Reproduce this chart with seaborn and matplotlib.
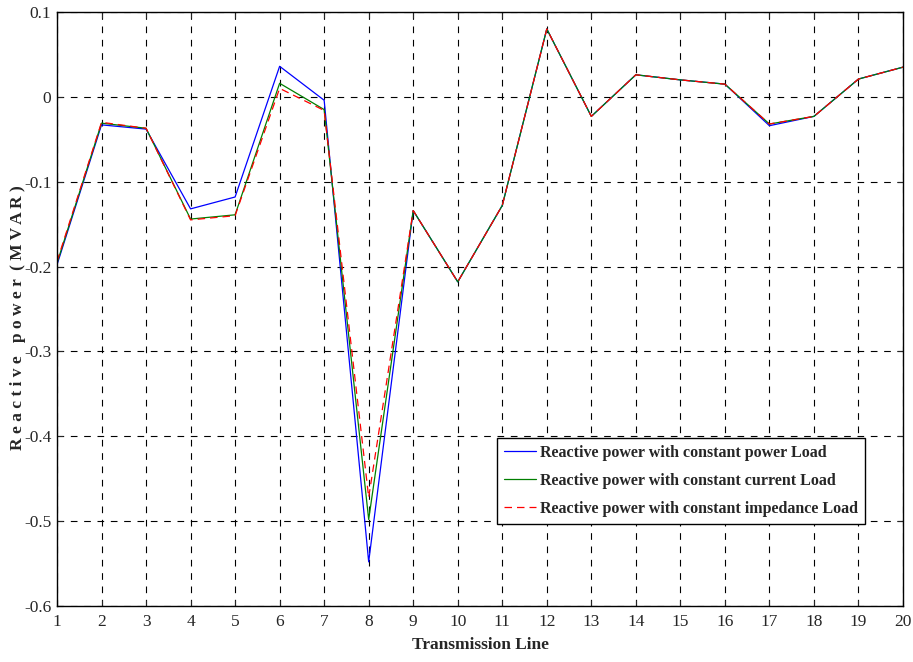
import matplotlib
matplotlib.use("Agg")
import matplotlib.pyplot as plt
import seaborn as sns
import pandas as pd

lines = list(range(1, 21))
const_power = [-0.198, -0.033, -0.038, -0.132, -0.118, 0.036, -0.004, -0.548, -0.134, -0.218,
               -0.128, 0.080, -0.023, 0.026, 0.020, 0.015, -0.034, -0.023, 0.021, 0.035]
const_current = [-0.196, -0.031, -0.037, -0.144, -0.139, 0.016, -0.015, -0.498, -0.134, -0.218,
                 -0.128, 0.080, -0.023, 0.026, 0.020, 0.015, -0.032, -0.023, 0.021, 0.035]
const_impedance = [-0.194, -0.030, -0.037, -0.145, -0.140, 0.010, -0.016, -0.472, -0.134, -0.218,
                   -0.128, 0.080, -0.023, 0.026, 0.020, 0.015, -0.032, -0.023, 0.021, 0.035]
series_names = ["Reactive power with constant power Load",
                "Reactive power with constant current Load",
                "Reactive power with constant impedance Load"]
xticks = list(range(1, 21))
yticks = [-0.6, -0.5, -0.4, -0.3, -0.2, -0.1, 0, 0.1]
ytick_labels = ["-0.6", "-0.5", "-0.4", "-0.3", "-0.2", "-0.1", "0", "0.1"]

df = pd.DataFrame({
    "line": lines * 3,
    "value": const_power + const_current + const_impedance,
    "series": [series_names[0]] * 20 + [series_names[1]] * 20 + [series_names[2]] * 20,
})

sns.set_style("ticks")
plt.rcParams["font.family"] = ["Liberation Serif", "DejaVu Serif"]
plt.rcParams["xtick.direction"] = "in"
plt.rcParams["ytick.direction"] = "in"

fig = plt.figure(figsize=(9.13, 6.62), dpi=100)
ax = fig.add_axes([57 / 913, 1 - 606 / 662, (903 - 57) / 913, (606 - 12) / 662])

palette = {series_names[0]: "#0000ff", series_names[1]: "#007f00", series_names[2]: "#ff0000"}
dashes = {series_names[0]: "", series_names[1]: "", series_names[2]: (6, 4)}
sns.lineplot(data=df, x="line", y="value", hue="series", style="series",
             palette=palette, dashes=dashes, hue_order=series_names, style_order=series_names,
             linewidth=0.9, ax=ax)

ax.set_xlim(1, 20)
ax.set_ylim(-0.6, 0.1)
ax.set_xticks(xticks)
ax.set_xticklabels([str(t) for t in xticks], fontsize=12.5)
ax.set_yticks(yticks)
ax.set_yticklabels(ytick_labels, fontsize=12.5)
ax.tick_params(axis="both", length=4, width=0.8, top=True, right=True)
ax.tick_params(axis="x", pad=6)
ax.tick_params(axis="y", pad=4)
ax.grid(True, color="black", linestyle=(0, (6, 6)), linewidth=0.8)
for s in ax.spines.values():
    s.set_color("black")
    s.set_linewidth(1.0)

ax.set_xlabel("Transmission Line", fontsize=12.5, fontweight="bold", labelpad=5)
ax.set_ylabel("R e a c t i v e   p o w e r  ( M V A R )", fontsize=12.5, fontweight="bold")
ax.yaxis.set_label_coords(-0.037, 0.485)

leg = ax.legend(loc="lower right", bbox_to_anchor=(0.955, 0.138), borderaxespad=0,
                fancybox=False, framealpha=1, edgecolor="black",
                prop={"family": "Liberation Serif", "weight": "bold", "size": 11.5},
                handlelength=2.0, handletextpad=0.25, borderpad=0.45, labelspacing=0.75)
leg.get_frame().set_linewidth(1.0)

fig.savefig("out.png", dpi=100)
